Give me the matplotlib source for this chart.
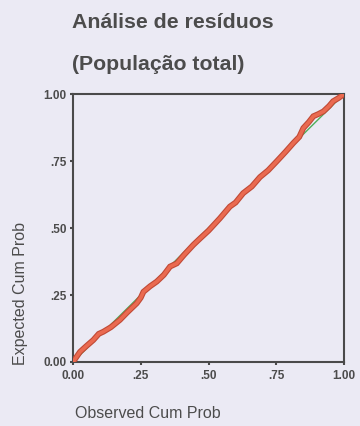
import matplotlib
matplotlib.use("Agg")
import matplotlib.pyplot as plt
import matplotlib.patheffects as pe

plt.rcParams['font.family'] = ['Liberation Sans', 'DejaVu Sans']

# P-P plot of regression residuals (observed vs expected cumulative probability)
observed = [0.0, 0.026, 0.05, 0.075, 0.095, 0.112, 0.14, 0.173, 0.2, 0.235, 0.25,
            0.26, 0.285, 0.309, 0.335, 0.358, 0.383, 0.41, 0.444, 0.47, 0.5, 0.542,
            0.579, 0.6, 0.628, 0.66, 0.69, 0.72, 0.752, 0.785, 0.813, 0.835, 0.85,
            0.87, 0.887, 0.905, 0.924, 0.945, 0.96, 0.98, 1.0]
expected = [0.0, 0.038, 0.06, 0.082, 0.105, 0.113, 0.13, 0.157, 0.185, 0.219, 0.24,
            0.262, 0.283, 0.30, 0.325, 0.356, 0.368, 0.40, 0.437, 0.462, 0.49, 0.536,
            0.58, 0.595, 0.63, 0.655, 0.69, 0.715, 0.749, 0.785, 0.817, 0.84, 0.873,
            0.895, 0.917, 0.925, 0.935, 0.955, 0.973, 0.985, 1.0]
ref_line = [0.0, 1.0]
tick_vals = [0.0, 0.25, 0.5, 0.75, 1.0]
tick_labels = ['0.00', '.25', '.50', '.75', '1.00']

bg = '#ebeaf4'
txt = '#4c4c4c'
frame = '#4a4a4a'

W, H = 360, 426
fig = plt.figure(figsize=(W / 100, H / 100), dpi=100, facecolor=bg)
ax = fig.add_axes([73 / W, 1 - 362 / H, (344 - 73) / W, (362 - 94) / H])
ax.set_facecolor(bg)

ax.plot(ref_line, ref_line, color='#4fae5a', lw=1.0, zorder=2)
ax.plot(observed, expected, color='#ea6a50', lw=2.6, solid_joinstyle='miter',
        zorder=3, path_effects=[pe.Stroke(linewidth=4.2, foreground='#c04a36'), pe.Normal()])

ax.set_xlim(0, 1)
ax.set_ylim(0, 1)
ax.set_xticks(tick_vals, labels=tick_labels)
ax.set_yticks(tick_vals, labels=tick_labels)
ax.tick_params(direction='out', length=2, width=1.5, color=frame,
               labelsize=8.5, labelcolor=txt)
ax.tick_params(axis='x', pad=4)
ax.tick_params(axis='y', pad=2.5)
for lab in ax.get_xticklabels() + ax.get_yticklabels():
    lab.set_fontweight('bold')
for sp in ax.spines.values():
    sp.set_color(frame)
    sp.set_linewidth(1.5)

fig.text(72 / W, 1 - 23 / H, 'Análise de resíduos', fontsize=15.3, fontweight='bold',
         color=txt, ha='left', va='center')
fig.text(72 / W, 1 - 65 / H, '(População total)', fontsize=15.3, fontweight='bold',
         color=txt, ha='left', va='center')
fig.text(75 / W, 1 - 413 / H, 'Observed Cum Prob', fontsize=11.5, color=txt,
         ha='left', va='center')
fig.text(21 / W, 1 - 365 / H, 'Expected Cum Prob', fontsize=11.5, color=txt,
         rotation=90, ha='center', va='bottom')

fig.savefig('out.png', dpi=100, facecolor=bg)
